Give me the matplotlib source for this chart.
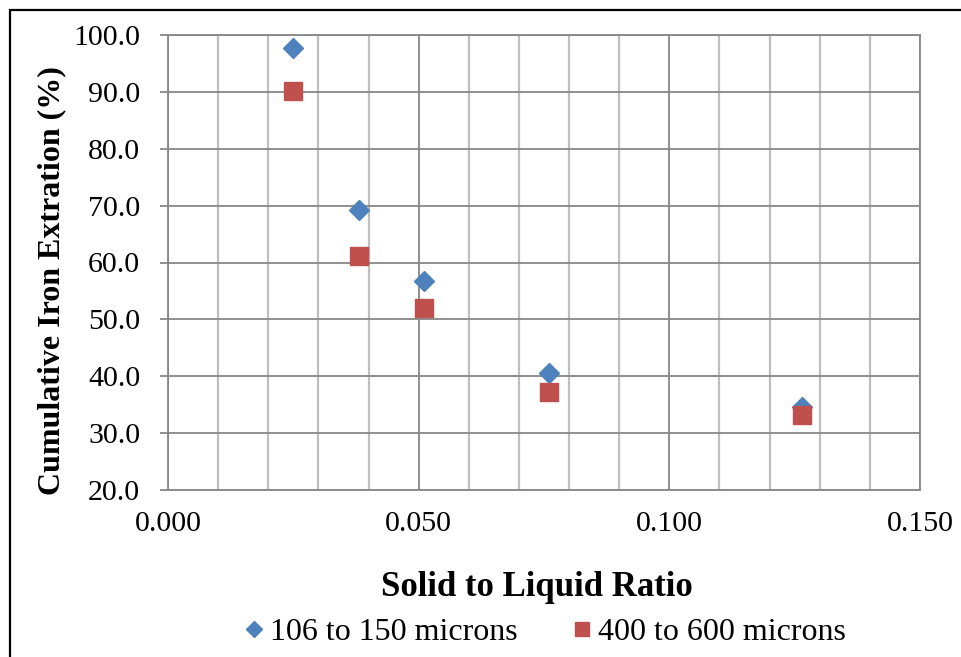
import numpy as np
import matplotlib.pyplot as plt
from matplotlib.patches import Rectangle
from matplotlib.ticker import MultipleLocator, FormatStrFormatter

plt.rcParams['font.family'] = ['Liberation Serif', 'DejaVu Serif']

# Solid to liquid ratio and cumulative iron extraction (%)
ratio = [0.025, 0.038, 0.051, 0.076, 0.1265]
fine = [97.8, 69.3, 56.7, 40.6, 34.6]     # 106 to 150 microns
coarse = [90.2, 61.1, 52.0, 37.2, 33.1]   # 400 to 600 microns

blue = '#4F81BD'
red = '#C0504D'
grid_dark = '#878787'
grid_light = '#BFBFBF'

fig = plt.figure(figsize=(9.62, 6.57), dpi=100)
ax = fig.add_axes([168/962, 1-490/657, (920-168)/962, (490-35)/657])

ax.plot(ratio, fine, linestyle='none', marker='D', ms=10.5, color=blue,
        label='106 to 150 microns', zorder=3)
ax.plot(ratio, coarse, linestyle='none', marker='s', ms=12.5, color=red,
        label='400 to 600 microns', zorder=4)

ax.set_xlim(0, 0.15)
ax.set_ylim(20, 100)
ax.xaxis.set_major_locator(MultipleLocator(0.05))
ax.xaxis.set_minor_locator(MultipleLocator(0.01))
ax.yaxis.set_major_locator(MultipleLocator(10))
ax.xaxis.set_major_formatter(FormatStrFormatter('%.3f'))
ax.yaxis.set_major_formatter(FormatStrFormatter('%.1f'))

ax.grid(which='minor', axis='x', color=grid_light, lw=1.6, zorder=0)
ax.grid(which='major', axis='x', color=grid_dark, lw=1.3, zorder=1)
ax.grid(which='major', axis='y', color=grid_dark, lw=1.3, zorder=1)
for s in ax.spines.values():
    s.set_color(grid_dark)
    s.set_linewidth(1.3)

ax.tick_params(axis='y', which='major', length=6, width=1.3, color=grid_dark,
               pad=14, labelsize=21.5)
ax.tick_params(axis='x', which='both', length=0, pad=15, labelsize=21.5)

fig.text(52/962, 1-281/657, 'Cumulative Iron Extration (%)', rotation=90,
         ha='center', va='center', fontsize=23, fontweight='bold')
fig.text(537/962, 1-587/657, 'Solid to Liquid Ratio',
         ha='center', va='center', fontsize=25, fontweight='bold')

fig.legend(loc='center', bbox_to_anchor=(545/962, 1-632/657), ncol=2,
           frameon=False, fontsize=23, markerscale=0.8, handlelength=0.6,
           handletextpad=0.2, columnspacing=1.7, borderpad=0)

# outer frame
fig.add_artist(Rectangle((10/962, -0.1), 1.5, 0.1 + 1 - 10/657,
                         transform=fig.transFigure, fill=False,
                         edgecolor='black', lw=1.6, clip_on=False))

fig.savefig('out.png', dpi=100)
